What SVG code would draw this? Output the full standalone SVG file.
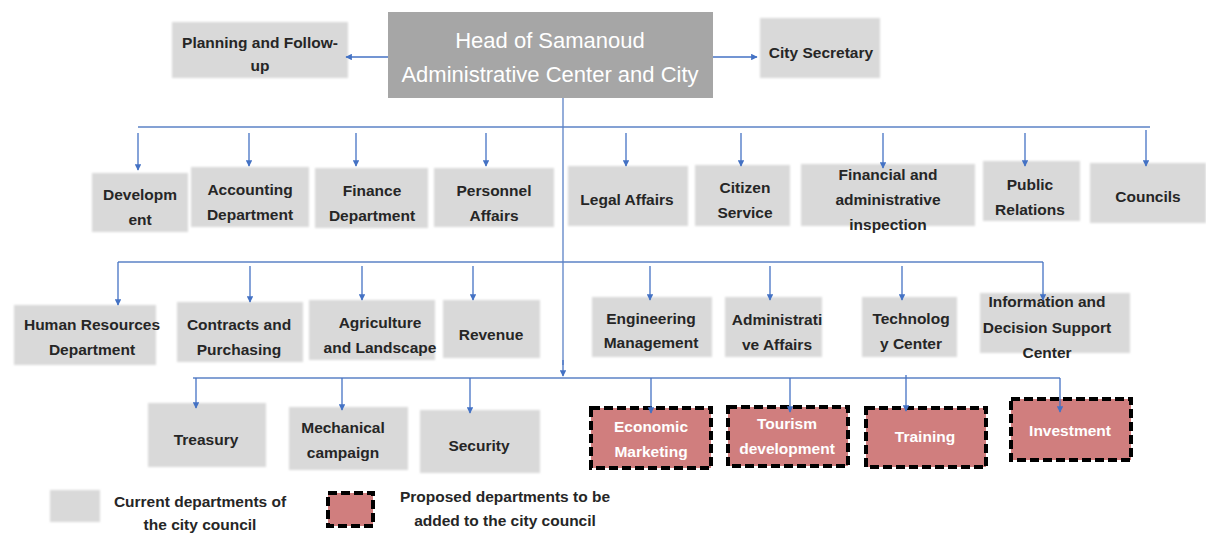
<svg xmlns="http://www.w3.org/2000/svg" width="1206" height="533" viewBox="0 0 1206 533">
<style>
.box{fill:#d9d9d9;filter:url(#soft)}
.prop{fill:#d07e7e;stroke:#000;stroke-width:4;stroke-dasharray:9 4}
.t{font-family:"Liberation Sans",Arial,sans-serif;font-weight:bold;font-size:15.5px;fill:#262626;text-anchor:middle}
.head{font-family:"Liberation Sans",Arial,sans-serif;font-size:22px;fill:#fff;text-anchor:middle}
.pt{font-family:"Liberation Sans",Arial,sans-serif;font-weight:bold;font-size:15.5px;fill:#fff;text-anchor:middle}
.ln{stroke:#5b82c6;stroke-width:1.3;fill:none}
.ar{stroke:#4472c4;stroke-width:1.3;fill:none;marker-end:url(#ah)}
</style>
<defs>
<marker id="ah" viewBox="0 0 10 10" refX="9" refY="5" markerWidth="5" markerHeight="5" orient="auto" markerUnits="strokeWidth">
<path d="M0,0 L10,5 L0,10 z" fill="#4472c4"/>
</marker>
<filter id="soft" x="-5%" y="-10%" width="110%" height="120%"><feGaussianBlur stdDeviation="1.2"/></filter>
</defs>
<rect width="1206" height="533" fill="#fff"/>
<g id="head"><rect x="388" y="12" width="325" height="86" fill="#a6a6a6"/><text class="head" x="550" y="48">Head of Samanoud</text><text class="head" x="550" y="82">Administrative Center and City</text></g>
<g id="planning"><rect class="box" x="172" y="22" width="176" height="56"/><text class="t" x="260" y="48">Planning and Follow-</text><text class="t" x="260" y="71">up</text></g>
<g id="secretary"><rect class="box" x="760" y="18" width="120" height="60"/><text class="t" x="821" y="58">City Secretary</text></g>

<g id="development"><rect class="box" x="92" y="173" width="96" height="59"/><text class="t" x="140" y="200">Developm</text><text class="t" x="140" y="225">ent</text></g>
<g id="accounting"><rect class="box" x="191" y="167" width="118" height="60"/><text class="t" x="250" y="195">Accounting</text><text class="t" x="250" y="220">Department</text></g>
<g id="finance"><rect class="box" x="315" y="168" width="113" height="60"/><text class="t" x="372" y="196">Finance</text><text class="t" x="372" y="221">Department</text></g>
<g id="personnel"><rect class="box" x="434" y="168" width="120" height="59"/><text class="t" x="494" y="196">Personnel</text><text class="t" x="494" y="221">Affairs</text></g>
<g id="legal"><rect class="box" x="568" y="166" width="120" height="60"/><text class="t" x="627" y="205">Legal Affairs</text></g>
<g id="citizen"><rect class="box" x="695" y="165" width="95" height="61"/><text class="t" x="745" y="193">Citizen</text><text class="t" x="745" y="218">Service</text></g>
<g id="inspection"><rect class="box" x="801" y="164" width="174" height="62"/><text class="t" x="888" y="180">Financial and</text><text class="t" x="888" y="205">administrative</text><text class="t" x="888" y="230">inspection</text></g>
<g id="public"><rect class="box" x="983" y="161" width="97" height="60"/><text class="t" x="1030" y="190">Public</text><text class="t" x="1030" y="215">Relations</text></g>
<g id="councils"><rect class="box" x="1090" y="163" width="116" height="60"/><text class="t" x="1148" y="202">Councils</text></g>

<g id="hr"><rect class="box" x="14" y="305" width="142" height="60"/><text class="t" x="92" y="330">Human Resources</text><text class="t" x="92" y="355">Department</text></g>
<g id="contracts"><rect class="box" x="177" y="302" width="126" height="60"/><text class="t" x="239" y="330">Contracts and</text><text class="t" x="239" y="355">Purchasing</text></g>
<g id="agriculture"><rect class="box" x="309" y="300" width="126" height="60"/><text class="t" x="380" y="328">Agriculture</text><text class="t" x="380" y="353">and Landscape</text></g>
<g id="revenue"><rect class="box" x="443" y="300" width="97" height="58"/><text class="t" x="491" y="340">Revenue</text></g>
<g id="engineering"><rect class="box" x="592" y="297" width="120" height="60"/><text class="t" x="651" y="324">Engineering</text><text class="t" x="651" y="348">Management</text></g>
<g id="administrative"><rect class="box" x="725" y="297" width="97" height="60"/><text class="t" x="777" y="325">Administrati</text><text class="t" x="777" y="350">ve Affairs</text></g>
<g id="technology"><rect class="box" x="862" y="297" width="95" height="60"/><text class="t" x="911" y="324">Technolog</text><text class="t" x="911" y="349">y Center</text></g>
<g id="information"><rect class="box" x="980" y="293" width="150" height="60"/><text class="t" x="1047" y="307">Information and</text><text class="t" x="1047" y="333">Decision Support</text><text class="t" x="1047" y="358">Center</text></g>

<g id="treasury"><rect class="box" x="148" y="403" width="118" height="64"/><text class="t" x="206" y="445">Treasury</text></g>
<g id="mechanical"><rect class="box" x="289" y="407" width="119" height="63"/><text class="t" x="343" y="433">Mechanical</text><text class="t" x="343" y="458">campaign</text></g>
<g id="security"><rect class="box" x="420" y="410" width="120" height="63"/><text class="t" x="479" y="451">Security</text></g>
<g id="economic"><rect class="prop" x="591" y="408" width="120" height="60"/><text class="pt" x="651" y="432">Economic</text><text class="pt" x="651" y="457">Marketing</text></g>
<g id="tourism"><rect class="prop" x="728" y="407" width="120" height="59"/><text class="pt" x="787" y="429">Tourism</text><text class="pt" x="787" y="454">development</text></g>
<g id="training"><rect class="prop" x="866" y="408" width="120" height="59"/><text class="pt" x="925" y="442">Training</text></g>
<g id="investment"><rect class="prop" x="1011" y="399" width="120" height="61"/><text class="pt" x="1070" y="436">Investment</text></g>

<g id="connectors">
<line class="ar" x1="388" y1="57" x2="346" y2="57"/>
<line class="ar" x1="713" y1="57" x2="757" y2="57"/>
<line class="ln" x1="563" y1="98" x2="563" y2="365"/>
<line class="ar" x1="563" y1="360" x2="563" y2="376"/>
<line class="ln" x1="138" y1="127" x2="1150" y2="127"/>
<line class="ar" x1="138" y1="133" x2="138" y2="170"/>
<line class="ar" x1="249" y1="133" x2="249" y2="166"/>
<line class="ar" x1="356" y1="133" x2="356" y2="166"/>
<line class="ar" x1="486" y1="133" x2="486" y2="166"/>
<line class="ar" x1="626" y1="133" x2="626" y2="166"/>
<line class="ar" x1="741" y1="133" x2="741" y2="166"/>
<line class="ar" x1="883" y1="133" x2="883" y2="168"/>
<line class="ar" x1="1025" y1="133" x2="1025" y2="166"/>
<line class="ar" x1="1146" y1="130" x2="1146" y2="166"/>
<line class="ln" x1="118" y1="262" x2="1043" y2="262"/>
<line class="ar" x1="118" y1="262" x2="118" y2="305"/>
<line class="ar" x1="250" y1="266" x2="250" y2="302"/>
<line class="ar" x1="362" y1="266" x2="362" y2="300"/>
<line class="ar" x1="473" y1="266" x2="473" y2="300"/>
<line class="ar" x1="650" y1="266" x2="650" y2="300"/>
<line class="ar" x1="770" y1="266" x2="770" y2="300"/>
<line class="ar" x1="902" y1="266" x2="902" y2="300"/>
<line class="ar" x1="1043" y1="262" x2="1043" y2="300"/>
<line class="ln" x1="193" y1="378" x2="1060" y2="378"/>
<line class="ar" x1="196" y1="378" x2="196" y2="408"/>
<line class="ar" x1="342" y1="378" x2="342" y2="410"/>
<line class="ar" x1="470" y1="378" x2="470" y2="413"/>
<line class="ar" x1="651" y1="378" x2="651" y2="413"/>
<line class="ar" x1="790" y1="378" x2="790" y2="412"/>
<line class="ar" x1="906" y1="375" x2="906" y2="411"/>
<line class="ar" x1="1060" y1="378" x2="1060" y2="412"/>
</g>

<g id="legend">
<rect class="box" x="50" y="490" width="50" height="32"/>
<text class="t" x="200" y="507">Current departments of</text>
<text class="t" x="200" y="530">the city council</text>
<rect class="prop" x="328" y="493" width="45" height="33"/>
<text class="t" x="505" y="502">Proposed departments to be</text>
<text class="t" x="505" y="526">added to the city council</text>
</g>
</svg>
